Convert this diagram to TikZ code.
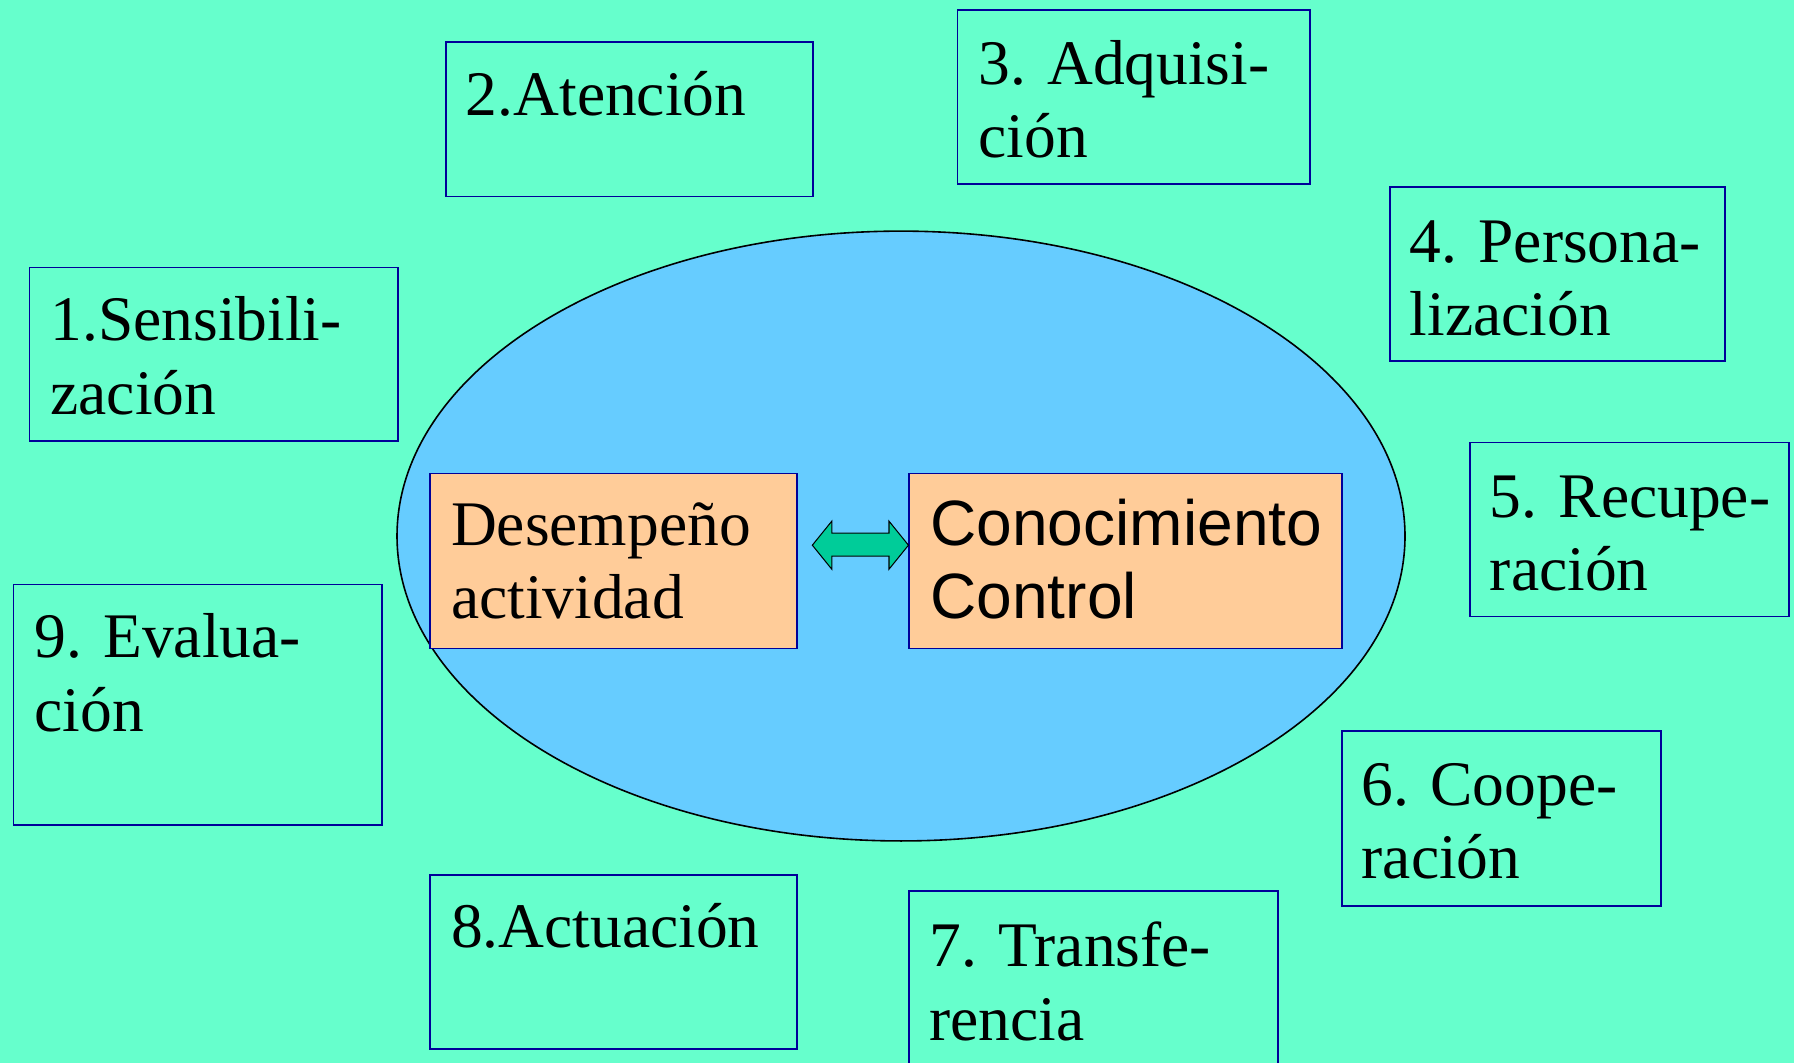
\documentclass[tikz,border=0pt]{standalone}
\usepackage{fontspec}
\setmainfont{Liberation Serif}
\setsansfont{Liberation Sans}
\definecolor{bg}{HTML}{66FFCC}
\definecolor{ell}{HTML}{66CCFF}
\definecolor{edge}{HTML}{000099}
\definecolor{orangebox}{HTML}{FFCC99}
\definecolor{arrowfill}{HTML}{00CC99}
\tikzset{
  stagebox/.style={draw=edge, line width=1.6pt, anchor=north west, inner sep=0pt},
  corebox/.style={stagebox, fill=orangebox},
  lbl/.style={anchor=base west, inner sep=0pt, align=left, font=\fontsize{55.5}{64}\selectfont},
  slbl/.style={lbl, font=\fontsize{56}{64}\sffamily\selectfont},
}
\begin{document}
\begin{tikzpicture}[x=1pt,y=-1pt]
\clip (0,0) rectangle (1568,929);
\useasboundingbox (0,0) rectangle (1568,929);
\fill[bg] (0,0) rectangle (1568,929);
% central ellipse
\draw[fill=ell, line width=1.4pt] (787.5,468.5) ellipse [x radius=440.5, y radius=266.5];
% core boxes (label anchors at the baseline of the last line)
\node[corebox, minimum width=321pt, minimum height=153pt] (des) at (375,413) {};
\node[lbl] (tdes) at (394,541) {Desempeño\\actividad};
\node[corebox, minimum width=378pt, minimum height=153pt] (con) at (794,413) {};
\node[slbl] (tcon) at (813,541) {Conocimiento\\Control};
% double arrow
\draw[fill=arrowfill, line width=0.9pt, line join=miter]
  (710,476.5) -- (727,455.5) -- (727,466) -- (777,466) -- (777,455.5) -- (794,476.5)
  -- (777,497.5) -- (777,486) -- (727,486) -- (727,497.5) -- cycle;
% stage boxes
\node[stagebox, minimum width=322pt, minimum height=152pt] (b1) at (25,233) {};
\node[lbl] (t1) at (44,362) {1.Sensibili-\\zación};
\node[stagebox, minimum width=321pt, minimum height=135pt] (b2) at (389,36) {};
\node[lbl] (t2) at (407,101) {2.Atención};
\node[stagebox, minimum width=308pt, minimum height=152pt] (b3) at (836,8) {};
\node[lbl] (t3) at (855,138) {3. Adquisi-\\ción};
\node[stagebox, minimum width=293pt, minimum height=152pt] (b4) at (1214,163) {};
\node[lbl] (t4) at (1232,293) {4. Persona-\\lización};
\node[stagebox, minimum width=279pt, minimum height=152pt] (b5) at (1284,386) {};
\node[lbl] (t5) at (1302,516) {5. Recupe-\\ración};
\node[stagebox, minimum width=279pt, minimum height=153pt] (b6) at (1172,638) {};
\node[lbl] (t6) at (1190,768) {6. Coope-\\ración};
\node[stagebox, minimum width=322pt, minimum height=170pt] (b7) at (794,778) {};
\node[lbl] (t7) at (812,909) {7. Transfe-\\rencia};
\node[stagebox, minimum width=321pt, minimum height=152pt] (b8) at (375,764) {};
\node[lbl] (t8) at (394,828) {8.Actuación};
\node[stagebox, minimum width=322pt, minimum height=210pt] (b9) at (11,510) {};
\node[lbl] (t9) at (30,639) {9. Evalua-\\ción};
\end{tikzpicture}
\end{document}
